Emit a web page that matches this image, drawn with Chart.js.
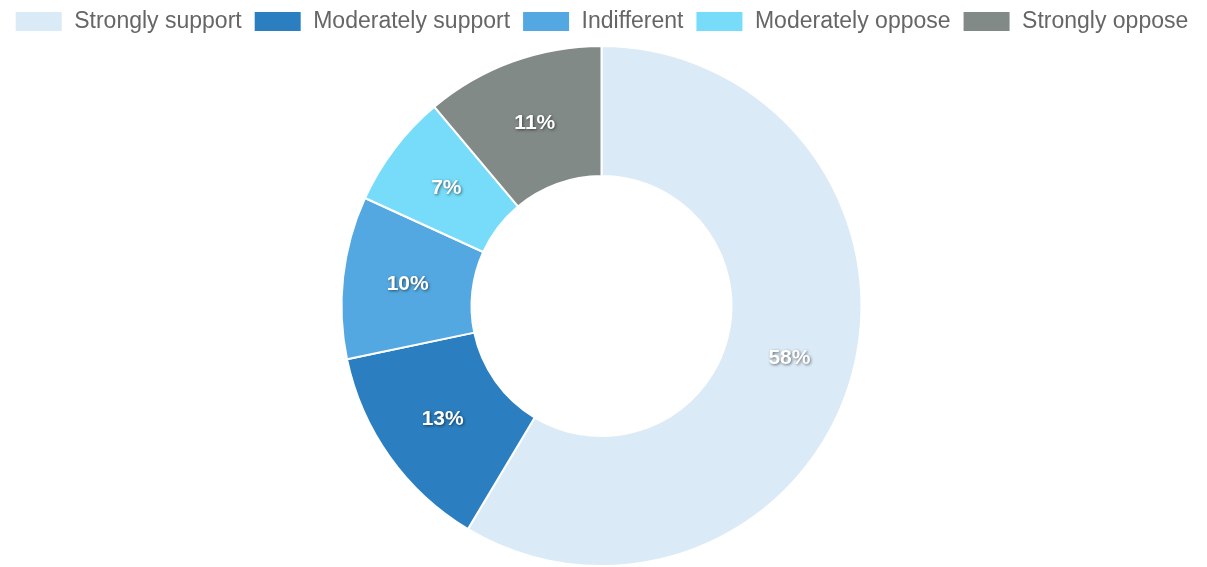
<!DOCTYPE html>
<html>
<head>
<meta charset="utf-8">
<script src="https://cdn.jsdelivr.net/npm/chart.js@4.4.1/dist/chart.umd.min.js"></script>
<style>
    html, body { margin: 0; padding: 0; background: #ffffff; }
    #wrap { width: 1207px; height: 567px; }
</style>
</head>
<body>
<div id="wrap"><canvas id="opinion-chart"></canvas></div>
<script>
// Survey answers and their shares (percent)
const categories = ["Strongly support", "Moderately support", "Indifferent", "Moderately oppose", "Strongly oppose"];
const shares = [58, 13, 10, 7, 11];
const colors = ["#dbeaf7", "#2b7fc0", "#54a8e1", "#76dcfa", "#828a88"];

// Draws the percentage in the middle of each slice
const sliceLabels = {
    id: "sliceLabels",
    afterDatasetsDraw(chart) {
        const ctx = chart.ctx;
        const meta = chart.getDatasetMeta(0);
        ctx.save();
        ctx.font = "bold 21px Arial, 'Liberation Sans', sans-serif";
        ctx.textAlign = "center";
        ctx.textBaseline = "middle";
        ctx.fillStyle = "#ffffff";
        ctx.shadowColor = "rgba(0, 0, 0, 0.55)";
        ctx.shadowBlur = 3;
        ctx.shadowOffsetX = 1;
        ctx.shadowOffsetY = 1;
        meta.data.forEach((arc, i) => {
            const pos = arc.tooltipPosition();
            ctx.fillText(`${shares[i]}%`, pos.x, pos.y);
        });
        ctx.restore();
    }
};

// A little extra space between the legend and the ring
const legendGap = {
    id: "legendGap",
    beforeInit(chart) {
        const fit = chart.legend.fit;
        chart.legend.fit = function () {
            fit.bind(chart.legend)();
            this.height += 2;
        };
    }
};

new Chart(document.getElementById("opinion-chart"), {
    type: "doughnut",
    data: {
        labels: categories,
        datasets: [{
            data: shares,
            backgroundColor: colors,
            borderColor: "#ffffff",
            borderWidth: 2
        }]
    },
    options: {
        responsive: true,
        maintainAspectRatio: false,
        animation: false,
        cutout: "50%",
        layout: { padding: { top: -2, right: 4, bottom: -2 } },
        plugins: {
            legend: {
                position: "top",
                labels: {
                    boxWidth: 48,
                    boxHeight: 21,
                    padding: 12,
                    color: "#666666",
                    font: { size: 23, family: "Arial, 'Liberation Sans', sans-serif" }
                }
            },
            tooltip: { enabled: false }
        }
    },
    plugins: [sliceLabels, legendGap]
});
</script>
</body>
</html>
